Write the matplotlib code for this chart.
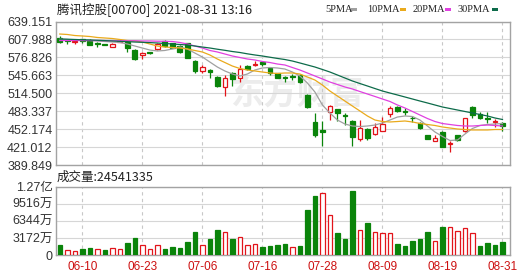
import matplotlib
matplotlib.use("Agg")
import matplotlib.pyplot as plt
from matplotlib.patches import Rectangle
import numpy as np

# ---------------- data ----------------
dates = ["06-07","06-08","06-09","06-10","06-11","06-15","06-16","06-17","06-18","06-21",
         "06-22","06-23","06-24","06-25","06-28","06-29","06-30","07-02","07-05","07-06",
         "07-07","07-08","07-09","07-12","07-13","07-14","07-15","07-16","07-19","07-20",
         "07-21","07-22","07-23","07-26","07-27","07-28","07-29","07-30","08-02","08-03",
         "08-04","08-05","08-06","08-09","08-10","08-11","08-12","08-13","08-16","08-17",
         "08-18","08-19","08-20","08-23","08-24","08-25","08-26","08-27","08-30","08-31"]

opens = [611.3, 607.0, 604.1, 607.9, 607.0, 602.3, 599.5, 595.4, 603.5, 603.0,
         589.6, 581.0, 586.0, 591.4, 605.3, 601.3, 597.1, 601.3, 571.0, 553.7,
         554.9, 543.3, 525.4, 550.2, 541.5, 561.8, 563.6, 568.3, 558.9, 549.2,
         543.3, 545.0, 546.2, 511.5, 464.0, 450.7, 482.4, 487.1, 476.7, 466.3,
         435.0, 452.4, 444.2, 448.9, 477.9, 491.1, 483.7, 472.0, 462.8, 442.0,
         431.5, 446.6, 425.5, 442.0, 448.9, 491.1, 477.9, 472.0, 465.0, 463.3]
closes = [602.7, 605.3, 605.8, 605.3, 598.3, 600.6, 598.3, 600.1, 605.3, 593.6,
          574.0, 584.4, 584.6, 600.1, 596.9, 593.6, 585.6, 575.7, 553.2, 560.6,
          550.9, 527.1, 540.5, 538.7, 556.6, 557.2, 565.8, 564.9, 550.2, 541.5,
          540.5, 542.7, 533.5, 491.1, 442.0, 447.7, 492.3, 479.7, 475.0, 439.0,
          454.7, 437.3, 455.3, 460.6, 488.4, 483.7, 481.4, 471.0, 454.7, 435.0,
          436.0, 421.5, 427.3, 433.3, 471.0, 476.7, 471.0, 469.8, 466.3, 457.6]
highs = [613.9, 608.7, 607.0, 608.7, 607.9, 603.5, 600.1, 601.0, 609.6, 604.4,
         591.4, 585.3, 586.7, 601.3, 607.0, 601.8, 598.3, 601.8, 572.3, 563.6,
         555.8, 544.5, 546.2, 551.4, 563.6, 564.4, 570.5, 570.5, 560.6, 549.7,
         544.5, 547.9, 547.9, 513.2, 479.7, 466.3, 494.1, 488.0, 479.7, 467.2,
         468.0, 453.3, 462.3, 473.9, 491.5, 493.2, 488.9, 475.8, 465.4, 442.8,
         442.0, 448.9, 431.8, 442.8, 471.5, 493.2, 481.4, 481.4, 470.6, 464.8]
lows = [601.0, 600.1, 600.1, 601.0, 597.5, 594.0, 597.5, 594.8, 602.7, 585.6,
        573.1, 574.5, 582.2, 589.6, 594.3, 593.1, 584.4, 574.9, 550.5, 550.5,
        540.5, 525.4, 510.2, 527.1, 534.6, 554.9, 562.7, 561.0, 546.2, 540.5,
        534.0, 537.5, 532.3, 489.7, 439.0, 423.4, 468.0, 466.3, 459.3, 423.4,
        430.7, 433.3, 442.0, 448.1, 473.8, 481.1, 476.7, 465.4, 452.4, 434.2,
        430.7, 420.3, 411.6, 432.4, 446.7, 471.0, 468.9, 462.3, 456.4, 448.9]

# volume in units of 万 (10,000 shares)
vol_wan = [1857, 867, 743, 1114, 1300, 1114, 929, 1238, 1114, 2228,
           3157, 1795, 1114, 1795, 1114, 1486, 1300, 2414, 4271, 1857,
           2971, 4643, 4209, 2971, 3281, 1857, 1981, 1486, 1671, 1795,
           2043, 1424, 1671, 8357, 10956, 11452, 7428, 4085, 2971, 11885,
           4581, 5942, 4209, 4085, 4085, 2043, 1671, 2600, 2971, 4271,
           2600, 5200, 5200, 4457, 4952, 4085, 1671, 2228, 1857, 2454]

ma5 = [608.7, 607.9, 607.0, 606.1, 606.1, 605.3, 604.4, 603.5, 602.7, 600.1,
       596.6, 593.1, 589.6, 587.9, 588.8, 591.4, 594.8, 591.4, 584.4, 577.5,
       568.8, 560.1, 553.2, 547.9, 544.5, 547.9, 554.9, 558.4, 559.2, 558.4,
       556.6, 551.4, 544.5, 532.3, 516.7, 494.1, 480.2, 468.0, 461.1, 457.6,
       456.7, 457.6, 459.3, 462.8, 468.0, 473.2, 475.0, 474.1, 468.0, 457.6,
       447.2, 439.4, 432.4, 433.3, 443.7, 453.3, 458.5, 460.2, 461.1, 461.9]
ma10 = [617.4, 616.6, 614.8, 614.0, 613.1, 611.4, 610.5, 609.6, 607.9, 606.1,
        605.3, 603.5, 600.1, 596.6, 594.8, 594.0, 593.1, 591.4, 588.8, 586.2,
        581.0, 574.0, 567.9, 561.8, 557.5, 554.9, 553.2, 551.4, 549.7, 548.8,
        549.7, 549.7, 547.9, 542.7, 537.5, 528.8, 518.4, 509.7, 501.0, 492.3,
        483.7, 475.0, 468.0, 465.4, 464.6, 465.4, 466.3, 464.6, 462.0, 460.2,
        458.5, 455.9, 454.1, 452.4, 451.5, 450.7, 450.7, 450.7, 451.5, 451.5]
ma20 = [606.1, 606.1, 606.1, 606.1, 606.1, 606.1, 606.0, 605.8, 605.8, 605.6,
        605.6, 605.3, 605.3, 604.9, 604.7, 604.4, 602.7, 600.1, 596.6, 593.1,
        588.8, 586.2, 582.7, 579.2, 576.6, 574.0, 572.3, 569.7, 567.9, 565.3,
        563.6, 559.2, 554.9, 549.7, 544.5, 539.3, 534.0, 529.7, 525.4, 521.9,
        517.5, 513.2, 508.9, 504.5, 500.2, 494.1, 488.9, 482.8, 476.7, 470.6,
        465.4, 461.9, 460.2, 458.5, 457.6, 457.6, 458.5, 459.3, 458.5, 457.6]
ma30 = [608.7, 608.4, 607.9, 607.4, 607.0, 606.5, 606.0, 605.3, 604.7, 604.2,
        603.5, 603.0, 602.5, 601.8, 600.9, 600.1, 599.2, 598.3, 596.6, 594.8,
        593.1, 591.0, 589.1, 587.0, 585.3, 583.0, 581.0, 579.2, 577.1, 575.0,
        573.1, 570.5, 567.1, 563.6, 560.1, 555.8, 551.4, 546.2, 541.0, 535.8,
        531.4, 527.1, 522.7, 518.4, 514.9, 511.5, 508.0, 504.5, 501.0, 497.6,
        494.1, 490.6, 488.0, 485.4, 482.8, 480.2, 477.6, 475.0, 471.5, 468.9]

price_ticks = [389.849, 421.012, 452.174, 483.337, 514.500, 545.663, 576.826, 607.988, 639.151]
price_labels = ["389.849", "421.012", "452.174", "483.337", "514.500", "545.663", "576.826", "607.988", "639.151"]
vol_ticks_wan = [0, 3172, 6344, 9516, 12688]
vol_labels = ["0", "3172万", "6344万", "9516万", "1.27亿"]
xtick_labels = ["06-10", "06-23", "07-06", "07-16", "07-28", "08-09", "08-19", "08-31"]

title = "腾讯控股[00700] 2021-08-31 13:16"
vol_title = "成交量:24541335"
ma_names = ["5PMA", "10PMA", "20PMA", "30PMA"]

# ---------------- style ----------------
RED = "#e2141a"
GREEN = "#0a840a"
MA_COLORS = ["#a0a0a0", "#eaaa1c", "#e040e0", "#0d6b4a"]
GRID = "#d6d6d6"
SPINE = "#a3a3a3"
NUMFONT = ["Liberation Sans", "Noto Sans CJK SC"]
CJK = ["Noto Sans CJK SC", "DejaVu Sans"]

x = np.arange(len(dates))
o = np.array(opens); c = np.array(closes); h = np.array(highs); l = np.array(lows)
v = np.array(vol_wan) * 1e4

fig = plt.figure(figsize=(5.30, 2.76), dpi=100)
ax = fig.add_axes([56/530, 1-165/276, 454/530, 143.5/276])
axv = fig.add_axes([56/530, 1-255/276, 454/530, 68.3/276])

xt = [dates.index(d) for d in xtick_labels]

for a in (ax, axv):
    a.set_xlim(-0.5, 60.0)
    a.set_axisbelow(True)
    for s in a.spines.values():
        s.set_color(SPINE)
        s.set_linewidth(1.0)
    a.set_xticks(xt)
    a.xaxis.grid(True, color="#c8c8c8", lw=0.8, ls=(0, (3, 3)))
    a.yaxis.grid(True, color=GRID, lw=0.8)
    a.tick_params(length=0)

# --- main panel ---
ax.set_ylim(price_ticks[0], price_ticks[-1])
ax.set_yticks(price_ticks)
ax.set_yticklabels(price_labels, fontsize=9, family=NUMFONT, color="#333333")
ax.tick_params(axis="y", pad=2.5)
ax.set_xticklabels([])

ax.text(0.383, 0.49, "东方财富", transform=ax.transAxes, fontsize=24,
        color="#ececec", fontweight="bold", family=CJK, va="center", ha="left", zorder=0.5)

up = c > o
col = np.where(up, RED, GREEN)
face = np.where(up, "white", GREEN)
ax.vlines(x, l, h, colors=col, lw=0.9, zorder=2)
body_bottom = np.minimum(o, c)
body_h = np.maximum(np.abs(c - o), 0.9)
ax.bar(x, body_h, bottom=body_bottom, width=0.62, color=face, edgecolor=col,
       linewidth=0.9, zorder=3)

for ma, mc in zip([ma5, ma10, ma20, ma30], MA_COLORS):
    ax.plot(x, ma, color=mc, lw=0.9, zorder=4)

# --- volume panel ---
prev = np.concatenate([[o[0]], c[:-1]])
vup = c > prev
vcol = np.where(vup, RED, GREEN)
vface = np.where(vup, "white", GREEN)
axv.bar(x, v, width=0.6, color=vface, edgecolor=vcol, linewidth=0.9, zorder=3)
axv.set_ylim(0, vol_ticks_wan[-1] * 1e4)
axv.set_yticks([t * 1e4 for t in vol_ticks_wan])
axv.set_yticklabels(vol_labels, fontsize=9, family=NUMFONT, color="#333333")
axv.tick_params(axis="y", pad=2.5)
axv.set_xticklabels(xtick_labels, fontsize=8.5, family=NUMFONT, color="#cc1010")
axv.tick_params(axis="x", pad=4)

# --- texts ---
fig.text(57/530, 1-9.5/276, title, fontsize=9, family=CJK, color="#222222",
         va="center", ha="left")
fig.text(57/530, 1-177.5/276, vol_title, fontsize=9, family=CJK, color="#222222",
         va="center", ha="left")

leg_x = [325, 367, 413, 458]
sq_x = [351, 400, 445, 492]
for name, mc, lx, sx in zip(ma_names, MA_COLORS, leg_x, sq_x):
    fig.text(lx/530, 1-9.5/276, name, fontsize=7.5, family=["Liberation Serif"],
             color="#222222", va="center", ha="left")
    fig.add_artist(Rectangle((sx/530, 1-10.8/276), 6/530, 2.6/276,
                             transform=fig.transFigure, color=mc, lw=0))

fig.savefig("out.png", dpi=100)
